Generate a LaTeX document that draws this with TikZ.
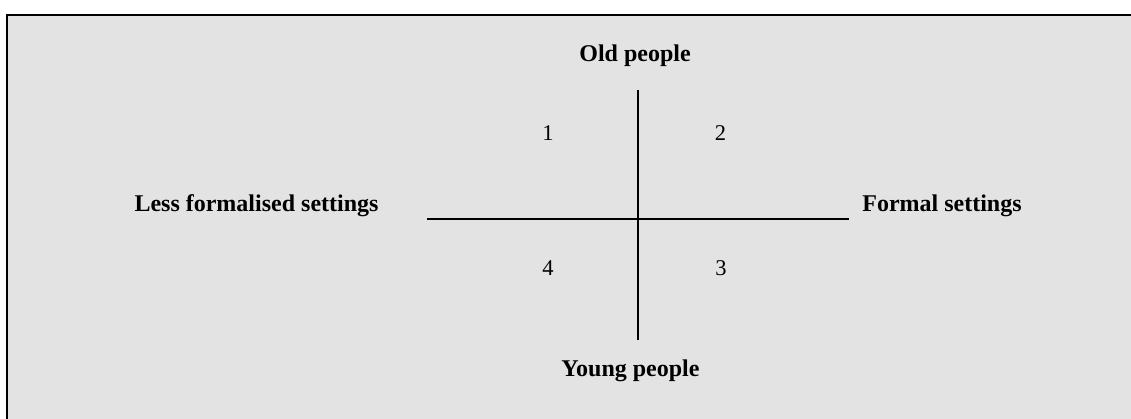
\documentclass[tikz,border=0pt]{standalone}
\usepackage{fontspec}
\setmainfont{Liberation Serif}
\usetikzlibrary{positioning}
\definecolor{panelgrey}{RGB}{227,227,227}

\begin{document}
\begin{tikzpicture}[
    x=1pt, y=-1pt,
    axis/.style={line width=1.5pt, black},
    pole/.style={anchor=base, inner sep=0pt, font=\fontsize{24}{28}\selectfont\bfseries},
    quad/.style={anchor=base, inner sep=0pt, font=\fontsize{22.5}{26}\selectfont}
]
    \useasboundingbox (0,0) rectangle (1131,419);
    \fill[panelgrey] (7,15) rectangle (1131,419);
    \draw[line width=1.3pt] (7,419) -- (7,15) -- (1131,15);

    % axes
    \coordinate (top) at (638,90.5);
    \coordinate (bottom) at (638,340);
    \coordinate (left) at (427,219);
    \coordinate (right) at (849,219);
    \draw[axis] (top) -- (bottom);
    \draw[axis] (left) -- (right);

    % pole labels
    \node[pole] (old) at (635,62) {Old people};
    \node[pole] (young) at (630.5,376) {Young people};
    \node[pole] (less) at (256.5,212) {Less formalised settings};
    \node[pole] (formal) at (942,211.5) {Formal settings};

    % quadrants
    \node[quad] (q1) at (548,141) {1};
    \node[quad] (q2) at (720.5,141) {2};
    \node[quad] (q3) at (721,276) {3};
    \node[quad] (q4) at (548,276) {4};
\end{tikzpicture}
\end{document}
